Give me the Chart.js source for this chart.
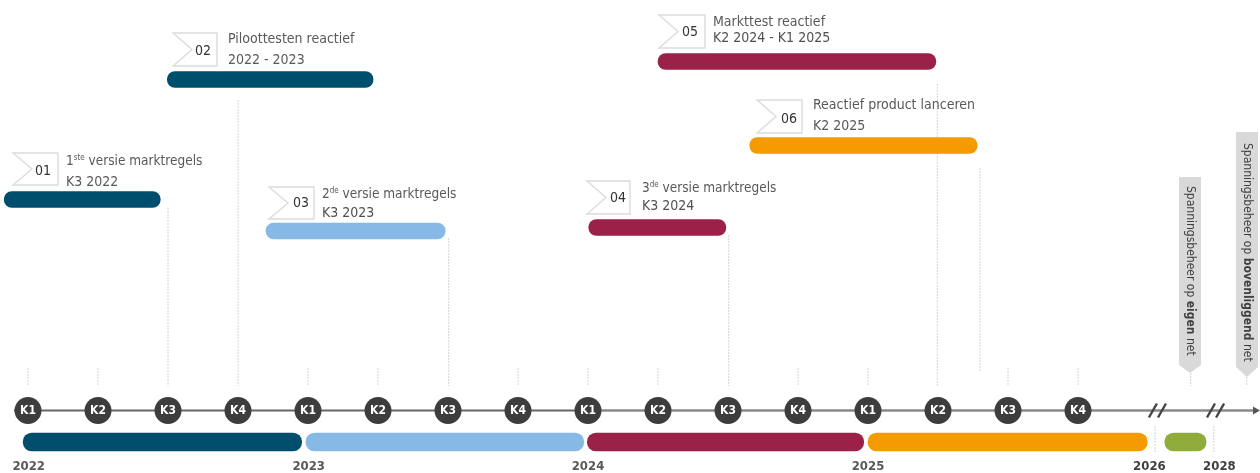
<!DOCTYPE html>
<html><head><meta charset="utf-8">
<style>html,body{margin:0;padding:0;background:#fff}canvas{display:block;filter:blur(0.65px)}</style>
<script src="https://cdn.jsdelivr.net/npm/chart.js@4"></script>
</head><body><canvas id="c" width="1260" height="473"></canvas>
<script>
// ---- data (time in quarters since K1 2022) ----
const quarterLabels = ["K1","K2","K3","K4","K1","K2","K3","K4","K1","K2","K3","K4","K1","K2","K3","K4"];
const quarterPos    = [0,1,2,3,4,5,6,7,8,9,10,11,12,13,14,15];
const taskIds    = ["01","02","03","04","05","06"];
const taskTitles = [["1","ste"," versie marktregels"],["Piloottesten reactief"],["2","de"," versie marktregels"],["3","de"," versie marktregels"],["Markttest reactief"],["Reactief product lanceren"]];
const taskDates  = ["K3 2022","2022 - 2023","K3 2023","K3 2024","K2 2024 - K1 2025","K2 2025"];
const taskStart  = [-0.34,1.99,3.40,8.01,9.00,10.31];
const taskEnd    = [1.89,4.93,5.96,9.97,12.97,13.56];
const yearLabels = ["2022","2023","2024","2025","2026","2028"];
const yearStart  = [-0.07,3.97,7.99,12.00,16.24];
const yearEnd    = [3.91,7.94,11.94,15.99,16.83];
const yearLabelPos = [0.01,4.01,8,12,16.02,17.02];
// ---- layout ----
const AX = 410.5;
const taskLane = [199.5,79.5,231,227.5,61.5,145.5];
const taskColor = ["#004e6e","#004e6e","#87b9e6","#9b2148","#9b2148","#f59b00"];
const yearColor = ["#004e6e","#87b9e6","#9b2148","#f59b00","#8fab39"];
const flagBox = [[13,153,45,32],[173,33,44,33],[269,187,45,32],[587,181,43,33],[659,15,46,33],[757,100,45,33]];
const numPos = [[43,171],[203,51],[301,203],[618,198],[690,32],[789,119]];
const textPos = [[66,161,182],[228,39,60],[322,194,213],[642,188,206],[713,22,38],[813,105,126]];
const leaders = [[0,368,386],[1,368,386],[2,208,386],[3,100,386],[4,368,386],[5,368,386],[6.01,238,386],[7,368,386],[8,368,386],[9,368,386],[10.01,235,386],[11,368,386],[12,368,386],[12.99,84,386],[14,368,386],[15,368,386],[13.6,168,372],[16.61,373,386],[17.41,377,386],[16.1,426,452],[16.94,426,452]];
const gaps = [];
leaders.forEach(l=>{gaps.push({x:l[0],y:l[1]},{x:l[0],y:l[2]},{x:l[0],y:NaN});});
const FONT='"DejaVu Sans Condensed","DejaVu Sans"';

const overlay = {id:'overlay',
  beforeDatasetsDraw(ch){
    const c=ch.ctx; c.save();
    c.fillStyle='#d9d9d9';
    [[1179,1201,177,365,373],[1236,1258,132,367,377]].forEach(b=>{
      c.beginPath();c.moveTo(b[0],b[2]);c.lineTo(b[1],b[2]);c.lineTo(b[1],b[3]);c.lineTo((b[0]+b[1])/2,b[4]);c.lineTo(b[0],b[3]);c.closePath();c.fill();});
    c.strokeStyle='#dcdcdc';c.lineWidth=1.4;c.fillStyle='#fff';
    flagBox.forEach(f=>{const[x,y,w,h]=f;
      c.beginPath();c.moveTo(x,y);c.lineTo(x+w,y);c.lineTo(x+w,y+h);c.lineTo(x,y+h);c.lineTo(x+19,y+h/2);c.closePath();c.fill();c.stroke();});
    c.restore();
  },
  afterDatasetsDraw(ch){
    const c=ch.ctx,X=ch.scales.x;c.save();
    // break marks and arrow
    c.strokeStyle='#444';c.lineWidth=2.4;
    [16.07,16.2,16.9,17.03].forEach(q=>{const p=X.getPixelForValue(q);
      c.beginPath();c.moveTo(p-4,AX+7);c.lineTo(p+4,AX-7);c.stroke();});
    c.fillStyle='#555';c.beginPath();c.moveTo(1260,AX);c.lineTo(1253,AX-4);c.lineTo(1253,AX+4);c.closePath();c.fill();
    // circle labels
    c.textAlign='center';c.textBaseline='middle';c.fillStyle='#fff';c.font='bold 12px '+FONT;
    quarterLabels.forEach((t,i)=>c.fillText(t,X.getPixelForValue(quarterPos[i]),AX+0.5));
    // years
    c.font='bold 13px '+FONT;
    yearLabels.forEach((t,i)=>{c.fillStyle=i>3?'#404040':'#595959';c.fillText(t,X.getPixelForValue(yearLabelPos[i]),467);});
    // ids
    c.fillStyle='#333';c.font='14px '+FONT;
    taskIds.forEach((t,i)=>c.fillText(t,numPos[i][0],numPos[i][1]));
    // titles
    c.textAlign='left';
    taskTitles.forEach((runs,i)=>{
      const[x,y1,y2]=textPos[i];let px=x;c.fillStyle='#595959';
      const size=runs.length>1?'13.5px ':'14px ';
      runs.forEach(r=>{
        if(r==='ste'||r==='de'){c.font='8px '+FONT;c.fillText(r,px,y1-3);}
        else{c.font=size+FONT;c.fillText(r,px,y1);}
        px+=c.measureText(r).width;});
      c.font='14px '+FONT;c.fillStyle=i===2||i===3||i===4?'#505050':'#595959';
      c.fillText(taskDates[i],x,y2);
    });
    // banners (rotated)
    [[1190.5,186,[["Spanningsbeheer op ",0],["eigen",1],[" net",0]]],[1247,143,[["Spanningsbeheer op ",0],["bovenliggend",1],[" net",0]]]].forEach(b=>{
      c.save();c.translate(b[0],b[1]);c.rotate(Math.PI/2);let p=0;c.fillStyle='#404040';
      b[2].forEach(r=>{c.font=(r[1]?'bold ':'')+'12px '+FONT;c.fillText(r[0],p,0);p+=c.measureText(r[0]).width;});
      c.restore();});
    c.restore();
  }};

new Chart(document.getElementById('c'),{
  type:'bar',
  plugins:[overlay],
  data:{datasets:[
    {type:'bar',label:'Mijlpalen',order:2,barThickness:16,borderRadius:8,borderSkipped:false,grouped:false,
     data:taskStart.map((s,i)=>({x:[s,taskEnd[i]],y:taskLane[i]})),backgroundColor:taskColor},
    {type:'bar',label:'Jaren',order:2,barThickness:18,borderRadius:9,borderSkipped:false,grouped:false,
     data:yearStart.map((s,i)=>({x:[s,yearEnd[i]],y:442})),backgroundColor:yearColor},
    {type:'scatter',label:'Hulplijnen',order:3,showLine:true,spanGaps:false,data:gaps,borderColor:'#d4d4d4',borderWidth:1,borderDash:[2,1],pointRadius:0},
    {type:'scatter',label:'As1',order:1.5,showLine:true,data:[{x:-0.2,y:AX},{x:8,y:AX}],borderColor:'#666',borderWidth:2,pointRadius:0},
    {type:'scatter',label:'As2',order:1.5,showLine:true,data:[{x:8,y:AX},{x:17.55,y:AX}],borderColor:'#8a8a8a',borderWidth:2.6,pointRadius:0},
    {type:'scatter',label:'Kwartalen',order:1,data:quarterPos.map(q=>({x:q,y:AX})),backgroundColor:'#3d3d3d',borderWidth:0,pointRadius:13.5}
  ]},
  options:{responsive:false,animation:false,indexAxis:'y',
    layout:{padding:0,autoPadding:false},clip:false,
    plugins:{legend:{display:false},tooltip:{enabled:false}},
    scales:{
      x:{type:'linear',min:-0.4,max:17.6,display:false,offset:false,grid:{offset:false}},
      y:{type:'linear',min:0,max:473,reverse:true,display:false,offset:false,grid:{offset:false}}
    }}
});
</script></body></html>
